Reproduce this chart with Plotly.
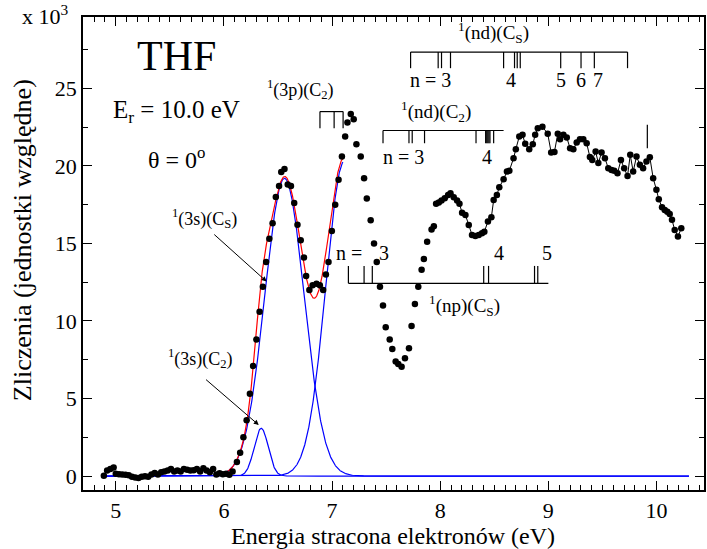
import numpy as np
import plotly.graph_objects as go

# ---------------- measured points (x 10^3 counts) ----------------
energy_pts = [4.89, 4.92, 4.95, 4.98, 5.00, 5.03, 5.06, 5.09, 5.12, 5.15, 5.18, 5.21, 5.24, 5.27,
              5.30, 5.33, 5.36, 5.39, 5.42, 5.45, 5.48, 5.51, 5.54, 5.57, 5.60, 5.63, 5.66, 5.69,
              5.72, 5.75, 5.78, 5.81, 5.84, 5.87, 5.90, 5.93, 5.96, 5.99, 6.02, 6.05, 6.08, 6.12,
              6.15, 6.18, 6.21, 6.24, 6.27, 6.30, 6.33, 6.36, 6.39, 6.42, 6.45, 6.48, 6.51, 6.53,
              6.56, 6.59, 6.62, 6.65, 6.68, 6.71, 6.74, 6.76, 6.79, 6.82, 6.856, 6.887, 6.918,
              6.943, 6.967, 6.998, 7.029, 7.060, 7.091, 7.121, 7.142, 7.173, 7.20, 7.225, 7.265,
              7.296, 7.321, 7.357, 7.388, 7.413, 7.443, 7.471, 7.496, 7.533, 7.557, 7.588, 7.612,
              7.643, 7.674, 7.711, 7.735, 7.766, 7.797, 7.828, 7.849, 7.879, 7.920, 7.941]
counts_pts = [0.02, 0.35, 0.45, 0.55, 0.15, 0.12, 0.10, 0.08, 0.05, -0.05, -0.10, -0.12, -0.05, -0.02,
              -0.05, 0.10, 0.20, 0.10, 0.25, 0.30, 0.35, 0.45, 0.30, 0.35, 0.30, 0.45, 0.40, 0.35,
              0.38, 0.45, 0.30, 0.50, 0.35, 0.25, 0.45, 0.10, 0.18, 0.12, 0.15, 0.08, 0.30, 0.9,
              1.5, 2.5, 3.6, 5.3, 7.1, 8.8, 10.6, 12.2, 13.8, 15.3, 16.3, 18.0, 18.7, 19.6,
              19.8, 18.8, 18.7, 17.6, 16.2, 15.2, 14.1, 12.9, 12.0, 12.3, 12.4, 12.3, 12.0,
              13.0, 13.8, 15.8, 17.5, 19.1, 20.6, 21.9, 22.8, 23.35, 23.0, 21.4, 20.6,
              19.2, 17.9, 16.5, 15.0, 13.8, 12.2, 11.0, 9.6, 8.8, 8.2, 7.38, 7.23,
              7.05, 7.6, 8.24, 9.67, 11.1, 12.2, 13.3, 14.0, 15.1, 15.9, 16.1]

energy_line = [7.962, 7.987, 8.012, 8.042, 8.073, 8.095, 8.125, 8.156, 8.178, 8.202, 8.233, 8.264,
               8.294, 8.325, 8.356, 8.386, 8.408, 8.441, 8.473, 8.494, 8.524, 8.546, 8.586, 8.617,
               8.639, 8.678, 8.699, 8.731, 8.761, 8.786, 8.823, 8.856, 8.878, 8.902, 8.945, 8.994,
               9.026, 9.056, 9.087, 9.108, 9.139, 9.170, 9.201, 9.231, 9.262, 9.292, 9.323, 9.354,
               9.384, 9.406, 9.437, 9.462, 9.492, 9.523, 9.554, 9.584, 9.609, 9.639, 9.671, 9.701,
               9.732, 9.757, 9.784, 9.815, 9.846, 9.876, 9.907, 9.938, 9.969, 9.999, 10.021, 10.051,
               10.076, 10.100, 10.122, 10.143, 10.168, 10.198, 10.229]
counts_line = [17.55, 17.64, 17.76, 17.91, 18.13, 18.24, 17.98, 17.76, 17.55, 16.98, 16.83, 16.19,
               15.55, 15.48, 15.55, 15.66, 15.76, 16.41, 16.69, 17.8, 18.13, 18.62, 19.14, 19.63,
               19.69, 20.49, 21.08, 21.89, 22.0, 21.42, 21.08, 21.4, 22.0, 22.43, 22.53, 22.07,
               20.86, 20.9, 22.07, 21.72, 22.0, 21.83, 21.13, 21.08, 21.5, 21.72, 21.72, 21.46,
               20.57, 20.38, 20.92, 20.18, 20.86, 20.49, 19.85, 19.74, 19.69, 19.52, 20.38, 19.85,
               19.35, 20.71, 19.63, 20.6, 20.07, 19.85, 20.28, 20.56, 19.21, 18.46, 17.85, 17.34,
               17.16, 17.05, 16.9, 16.52, 15.87, 15.44, 15.98]

# ---------------- fitted gaussian components ----------------
comp_center = [6.56, 6.345, 7.113]
comp_amp = [19.2, 3.08, 20.3]
comp_sigma = [0.182, 0.065, 0.17]
comp_xmax = [10.3, 10.3, 7.1]
curve_xmin = 4.9
fit_range = [6.0, 7.1]

# ---------------- level markers (eV) ----------------
nd_Cs_levels = [7.726, 7.981, 8.012, 8.095, 8.586, 8.687, 8.712, 8.74, 9.114, 9.302, 9.425, 9.732]
nd_C2_levels = [7.471, 7.711, 7.741, 7.855, 8.331, 8.42, 8.43, 8.44, 8.45, 8.46, 8.494]
nd_C2_end = 8.586
np_Cs_levels = [7.151, 7.296, 7.372, 8.402, 8.447, 8.872, 8.902]
np_Cs_end = 9.0
p3_C2_levels = [6.888, 7.019, 7.102]
limit_level = [9.915]

FONT = "Liberation Serif"

def gauss(x, c, a, s):
    return a * np.exp(-(x - c) ** 2 / (2 * s ** 2))

fig = go.Figure()

for c, a, s, xm in zip(comp_center, comp_amp, comp_sigma, comp_xmax):
    xx = np.linspace(curve_xmin, xm, 1500)
    fig.add_trace(go.Scatter(x=xx, y=gauss(xx, c, a, s), mode="lines",
                             line=dict(color="#0000ff", width=1.2), showlegend=False,
                             hoverinfo="skip"))

xs = np.linspace(fit_range[0], fit_range[1], 600)
ysum = sum(gauss(xs, c, a, s) for c, a, s in zip(comp_center, comp_amp, comp_sigma))
fig.add_trace(go.Scatter(x=xs, y=ysum, mode="lines", line=dict(color="#ff0000", width=1.2),
                         showlegend=False))

fig.add_trace(go.Scatter(x=energy_pts, y=counts_pts, mode="markers",
                         marker=dict(color="black", size=6.5), showlegend=False))
fig.add_trace(go.Scatter(x=energy_line, y=counts_line, mode="lines+markers",
                         line=dict(color="black", width=1),
                         marker=dict(color="black", size=6.5), showlegend=False))

shapes = []
def vline(x, y0, y1, w=1.2):
    shapes.append(dict(type="line", xref="x", yref="y", x0=x, x1=x, y0=y0, y1=y1,
                       line=dict(color="black", width=w)))
def hline(x0, x1, y, w=1.2):
    shapes.append(dict(type="line", xref="x", yref="y", x0=x0, x1=x1, y0=y, y1=y,
                       line=dict(color="black", width=w)))

# nd(Cs) bracket
hline(nd_Cs_levels[0], nd_Cs_levels[-1], 27.34)
for e in nd_Cs_levels:
    vline(e, 26.3, 27.34)
# nd(C2) bracket
hline(nd_C2_levels[0], nd_C2_end, 22.28)
for e in nd_C2_levels:
    vline(e, 21.46, 22.28)
# np(Cs) bracket (ticks up)
hline(np_Cs_levels[0], np_Cs_end, 12.43)
for e in np_Cs_levels:
    vline(e, 12.43, 13.55)
# 3p(C2) bracket
hline(p3_C2_levels[0], p3_C2_levels[-1], 23.5)
for e in p3_C2_levels:
    vline(e, 22.43, 23.5)
for e in limit_level:
    vline(e, 21.14, 22.65)

ann = []
def txt(x, y, t, size=18, xref="x", yref="y", angle=0):
    ann.append(dict(x=x, y=y, xref=xref, yref=yref, text=t, showarrow=False,
                    font=dict(family=FONT, size=size, color="black"), textangle=angle,
                    xanchor="center", yanchor="middle"))

txt(5.56, 27.1, "THF", 42)
txt(5.565, 23.5, "E<sub>r</sub> = 10.0 eV", 25)
txt(5.565, 20.5, "θ = 0<sup>o</sup>", 24)
txt(6.71, 24.9, "<sup>1</sup>(3p)(C<sub>2</sub>)", 18)
txt(5.82, 16.6, "<sup>1</sup>(3s)(C<sub>S</sub>)", 18)
txt(5.784, 7.6, "<sup>1</sup>(3s)(C<sub>2</sub>)", 18)
txt(8.494, 28.6, "<sup>1</sup>(nd)(C<sub>S</sub>)", 19)
txt(7.957, 23.5, "<sup>1</sup>(nd)(C<sub>2</sub>)", 19)
txt(8.227, 10.97, "<sup>1</sup>(np)(C<sub>S</sub>)", 19)
# level labels
txt(7.913, 25.55, "n = 3", 20)
txt(8.659, 25.55, "4", 20)
txt(9.114, 25.55, "5", 20)
txt(9.305, 25.55, "6", 20)
txt(9.455, 25.55, "7", 20)
txt(7.664, 20.6, "n = 3", 20)
txt(8.432, 20.6, "4", 20)
txt(7.157, 14.4, "n =", 20)
txt(7.48, 14.4, "3", 20)
txt(8.547, 14.4, "4", 20)
txt(8.985, 14.4, "5", 20)

# arrows
for (tx, ty, hx, hy) in [(5.897, 15.66, 6.395, 12.54), (5.821, 6.3, 6.322, 3.29)]:
    ann.append(dict(x=hx, y=hy, ax=tx, ay=ty, xref="x", yref="y", axref="x", ayref="y",
                    text="", showarrow=True, arrowhead=2, arrowsize=1, arrowwidth=1,
                    arrowcolor="black"))

# axis titles and multiplier
txt(-0.06, 1.004, "x 10<sup>3</sup>", 22, xref="paper", yref="paper")
txt(0.499, -0.097, "Energia stracona elektronów (eV)", 24, xref="paper", yref="paper")
txt(-0.098, 0.5285, "Zliczenia (jednostki względne)", 26, xref="paper", yref="paper", angle=-90)

fig.update_layout(
    width=707, height=549,
    margin=dict(l=83, r=1, t=17, b=59),
    paper_bgcolor="white", plot_bgcolor="white",
    shapes=shapes, annotations=ann,
    font=dict(family=FONT, size=22, color="black"),
    showlegend=False,
)
fig.update_xaxes(range=[4.697, 10.439], tickvals=[5, 6, 7, 8, 9, 10], ticks="inside",
                 ticklen=9, tickwidth=1.2, tickcolor="black",
                 minor=dict(dtick=0.1, tick0=5, ticks="inside", ticklen=5, tickcolor="black"),
                 showline=True, linecolor="black", linewidth=1.5, mirror="ticks",
                 showgrid=False, zeroline=False, tickfont=dict(family=FONT, size=22))
fig.update_yaxes(range=[-0.9, 29.6], tickvals=[0, 5, 10, 15, 20, 25], ticks="inside",
                 ticklen=9, tickwidth=1.2, tickcolor="black",
                 minor=dict(dtick=2.5, tick0=0, ticks="inside", ticklen=5, tickcolor="black"),
                 showline=True, linecolor="black", linewidth=1.5, mirror="ticks",
                 showgrid=False, zeroline=False, tickfont=dict(family=FONT, size=22))

fig.write_html("out.html")
